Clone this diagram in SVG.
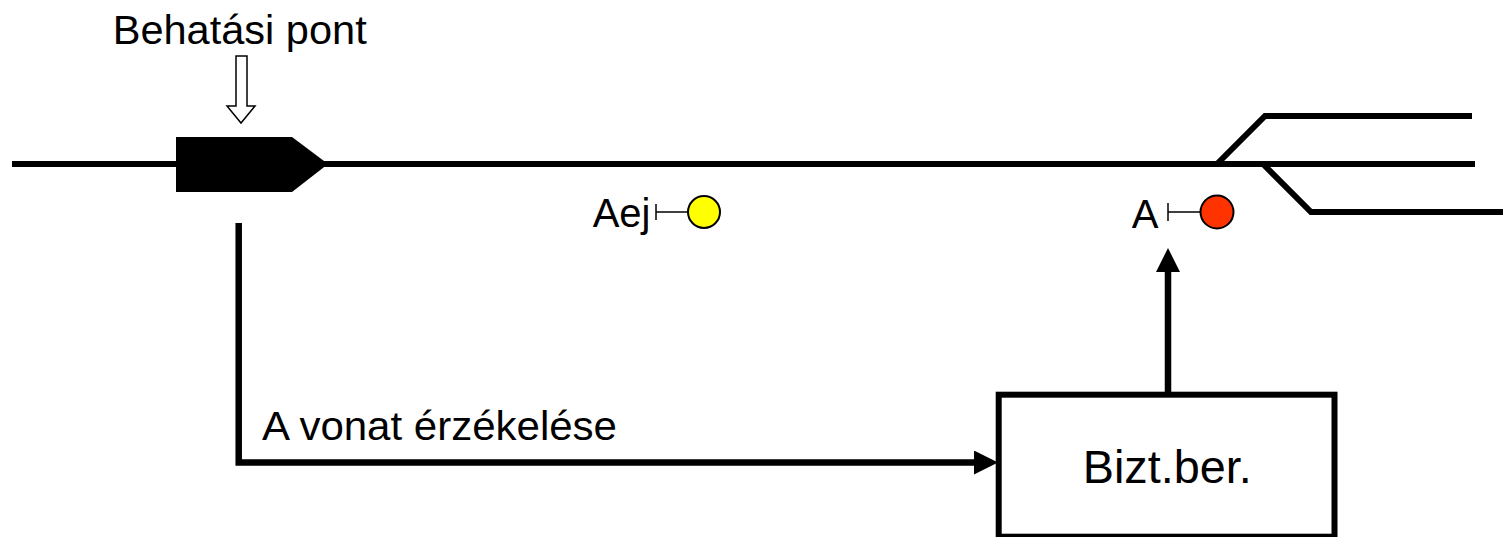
<svg xmlns="http://www.w3.org/2000/svg" width="1503" height="537" viewBox="0 0 1503 537">
<style>
text{font-family:"Liberation Sans",Arial,sans-serif;fill:#000}
.track{fill:none;stroke:#000;stroke-width:6}
.conn{fill:none;stroke:#000;stroke-width:6.5}
.sig{fill:none;stroke:#000;stroke-width:1.5}
</style>
<defs>
<marker id="ah" viewBox="0 0 24 24" refX="0" refY="12" markerWidth="24" markerHeight="24" markerUnits="userSpaceOnUse" orient="auto">
<path d="M0,0 L24,12 L0,24 Z" fill="#000"/>
</marker>
</defs>
<g id="tracks">
<line class="track" x1="12" y1="164" x2="1475" y2="164"/>
<polyline class="track" points="1217,164 1265,116 1472,116"/>
<polyline class="track" points="1263,164 1311,212 1503,212"/>
</g>
<g id="behatasi-pont">
<polygon points="176,137 292,137 328,164 292,192 176,192" fill="#000"/>
<polygon points="236,56 247,56 247,106 255,106 241,123 227,106 236,106" fill="#fff" stroke="#000" stroke-width="1.5"/>
<text x="112.7" y="44.3" font-size="40" textLength="254" lengthAdjust="spacingAndGlyphs">Behatási pont</text>
</g>
<g id="signal-aej">
<text x="592.7" y="227.3" font-size="40">Aej</text>
<line class="sig" x1="656" y1="204" x2="656" y2="220"/>
<line class="sig" x1="656" y1="212" x2="688" y2="212"/>
<circle cx="704" cy="212" r="16" fill="#ffff00" stroke="#000" stroke-width="2"/>
</g>
<g id="signal-a">
<text x="1131.7" y="228" font-size="40">A</text>
<line class="sig" x1="1168" y1="203" x2="1168" y2="221"/>
<line class="sig" x1="1168" y1="212" x2="1200" y2="212"/>
<circle cx="1217" cy="212" r="16.5" fill="#ff3300" stroke="#000" stroke-width="2"/>
</g>
<g id="bizt-ber">
<rect x="998.7" y="394.7" width="335.8" height="142" fill="#fff" stroke="#000" stroke-width="6"/>
<text x="1082.7" y="482.7" font-size="47" textLength="169" lengthAdjust="spacingAndGlyphs">Bizt.ber.</text>
</g>
<g id="connectors">
<polyline class="conn" points="238.7,223 238.7,462.5 974,462.5" marker-end="url(#ah)"/>
<line class="conn" x1="1168" y1="392" x2="1168" y2="272" marker-end="url(#ah)"/>
<text x="262" y="440" font-size="40" textLength="355" lengthAdjust="spacingAndGlyphs">A vonat érzékelése</text>
</g>
</svg>
